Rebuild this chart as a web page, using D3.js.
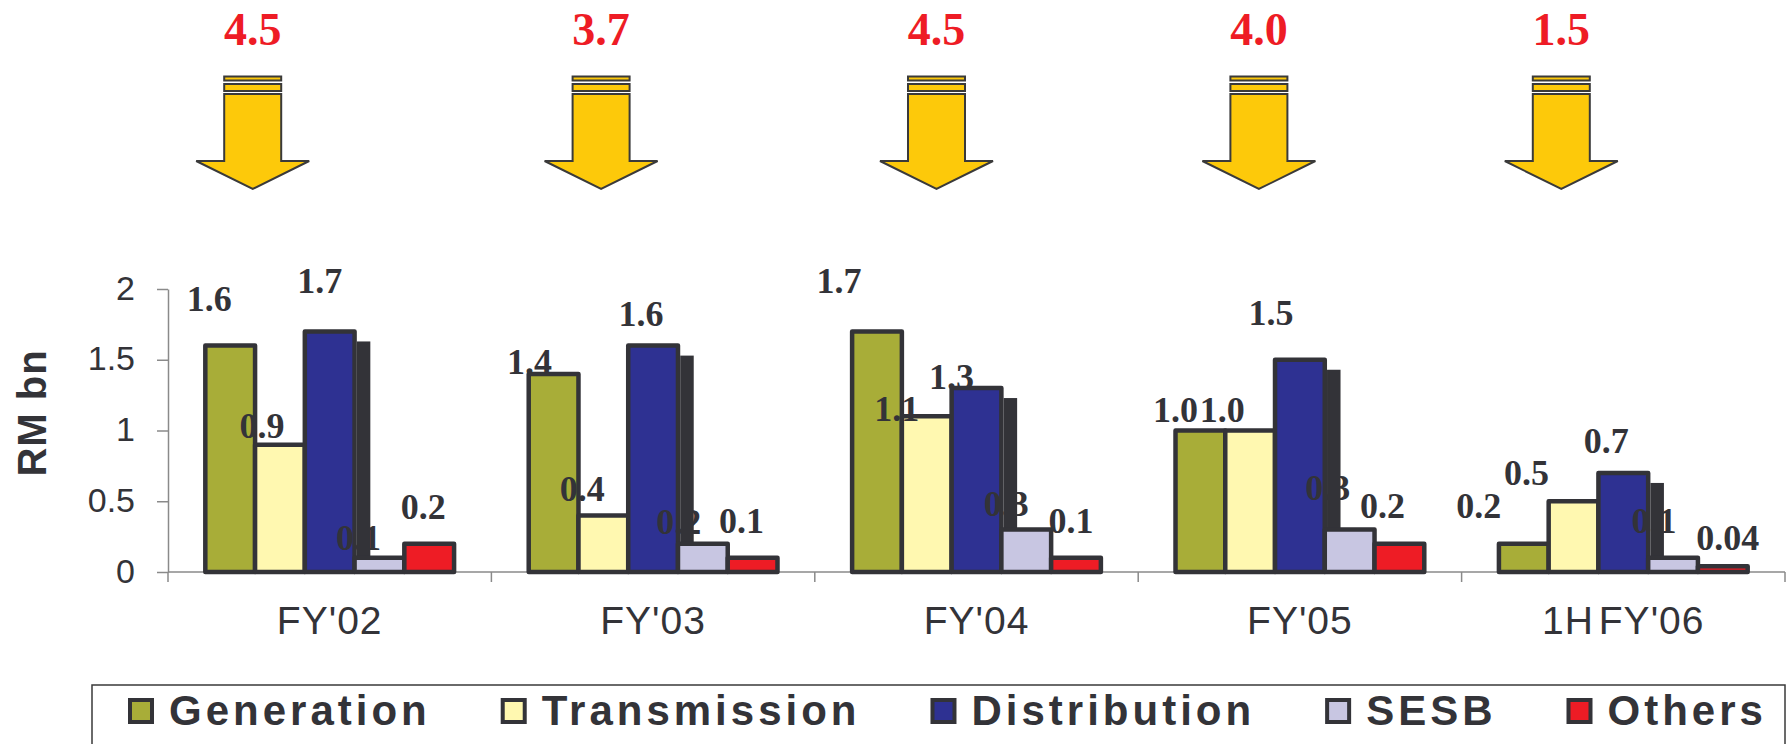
<!DOCTYPE html>
<html>
<head>
<meta charset="utf-8">
<script src="https://cdn.jsdelivr.net/npm/d3@7/dist/d3.min.js"></script>
<style>
  html, body { margin: 0; padding: 0; background: #fff; }
  svg { display: block; }
</style>
</head>
<body>
<svg id="chart" width="1790" height="744"></svg>
<script>
// ---------------- data ----------------
const categories = ["FY'02", "FY'03", "FY'04", "FY'05", "1H FY'06"];
const seriesNames = ["Generation", "Transmission", "Distribution", "SESB", "Others"];
const generation   = [1.6, 1.4, 1.7, 1.0, 0.2];
const transmission = [0.9, 0.4, 1.1, 1.0, 0.5];
const distribution = [1.7, 1.6, 1.3, 1.5, 0.7];
const sesb         = [0.1, 0.2, 0.3, 0.3, 0.1];
const others       = [0.2, 0.1, 0.1, 0.2, 0.04];
const yTicks = [0, 0.5, 1, 1.5, 2];
const yTitle = "RM bn";

// ---------------- layout / style ----------------
const colors = ["#A8AD38", "#FFF8B0", "#2E3192", "#C8C6E2", "#EE1C25"];
const ink = "#333338";
// label nudges [dx, dy] relative to bar centre / bar top (series x category)
const labelNudge = [
  [[-21, -35], [-24, 0], [-38, -38], [-25, -9], [-45, -26]],
  [[-18, -7], [-21, -14], [-30, 5], [-28, -9], [-47, -16]],
  [[-10, -38], [-12, -20], [-25, 1], [-29, -35], [-17, -20]],
  [[-21, -8], [-24, -10], [-20, -14], [-22, -30], [-19, -25]],
  [[-6, -25], [-11, -25], [-5, -25], [-17, -26], [5, -16]]
];
// arrow offsets relative to band centre
const arrowOffset = [-77, -52, -40, -41, -62];

const seriesValues = [generation, transmission, distribution, sesb, others];

const svg = d3.select("#chart");
const plot = { left: 168, right: 1785, top: 289, bottom: 572 };

const x0 = d3.scaleBand().domain(categories).range([plot.left, plot.right]).padding(0);
const x1 = d3.scaleBand().domain(seriesNames).range([0, x0.bandwidth()])
  .paddingInner(0).paddingOuter(0.75);
const y = d3.scaleLinear().domain([0, 2]).range([plot.bottom, plot.top]);

const sansFont = "'Liberation Sans', Arial, Helvetica, sans-serif";
const serifFont = "'Liberation Serif', 'Times New Roman', Times, serif";

// ---------------- y axis ----------------
const yAxis = d3.axisLeft(y).tickValues(yTicks).tickSize(11).tickSizeOuter(0)
  .tickPadding(22).tickFormat(d3.format(""));
const gy = svg.append("g").attr("transform", `translate(${plot.left},0)`).call(yAxis);
gy.select(".domain").attr("stroke", "#8a8a8a").attr("stroke-width", 1.5);
gy.selectAll(".tick line").attr("stroke", "#8a8a8a").attr("stroke-width", 1.5);
gy.selectAll(".tick text")
  .attr("font-family", sansFont).attr("font-size", 34).attr("fill", ink)
  .attr("dy", "0.3em");

// y title
svg.append("text")
  .attr("transform", `translate(46,413) rotate(-90)`)
  .attr("text-anchor", "middle")
  .attr("font-family", sansFont).attr("font-weight", "bold").attr("font-size", 40)
  .attr("letter-spacing", 1)
  .attr("fill", ink)
  .text(yTitle);

// ---------------- x axis ----------------
const gx = svg.append("g");
gx.append("line")
  .attr("x1", plot.left).attr("x2", plot.right)
  .attr("y1", y(0)).attr("y2", y(0))
  .attr("stroke", "#8a8a8a").attr("stroke-width", 1.5);
const boundaries = categories.map(c => x0(c)).concat([x0(categories[categories.length - 1]) + x0.bandwidth()]);
gx.selectAll("line.tk").data(boundaries).join("line").attr("class", "tk")
  .attr("x1", d => d).attr("x2", d => d)
  .attr("y1", y(0)).attr("y2", y(0) + 10)
  .attr("stroke", "#8a8a8a").attr("stroke-width", 1.5);
gx.selectAll("text.cat").data(categories).join("text").attr("class", "cat")
  .attr("x", d => x0(d) + x0.bandwidth() / 2)
  .attr("y", 634)
  .attr("text-anchor", "middle")
  .attr("font-family", sansFont).attr("font-size", 39).attr("letter-spacing", 1)
  .attr("word-spacing", -7)
  .attr("fill", ink)
  .text(d => d);

// ---------------- bars ----------------
const barsG = svg.append("g");
const bw = x1.bandwidth();
const sw = 4.5;
seriesNames.forEach((s, si) => {
  const vals = seriesValues[si];
  barsG.append("g").selectAll("rect").data(categories).join("rect")
    .attr("x", (c) => x0(c) + x1(s))
    .attr("y", (c, i) => y(vals[i]))
    .attr("width", bw)
    .attr("height", (c, i) => y(0) - y(vals[i]))
    .attr("fill", colors[si])
    .attr("stroke", ink).attr("stroke-width", sw).attr("stroke-linejoin", "round");
  if (s === "Distribution") {
    // 3D-like dark side of Distribution bars
    barsG.append("g").selectAll("rect").data(categories).join("rect")
      .attr("x", c => x0(c) + x1(s) + bw + sw / 2)
      .attr("y", (c, i) => y(vals[i]) + 10)
      .attr("width", 13.5)
      .attr("height", (c, i) => y(0) - y(vals[i]) - 10)
      .attr("fill", ink);
  }
});

// ---------------- value labels ----------------
const fmtLabel = v => (v < 0.1 ? d3.format(".2f")(v) : d3.format(".1f")(v));
const labelsG = svg.append("g");
seriesNames.forEach((s, si) => {
  const vals = seriesValues[si];
  labelsG.append("g").selectAll("text").data(categories).join("text")
    .attr("x", (c, i) => x0(c) + x1(s) + bw / 2 + labelNudge[si][i][0])
    .attr("y", (c, i) => y(vals[i]) + labelNudge[si][i][1])
    .attr("text-anchor", "middle")
    .attr("font-family", serifFont).attr("font-weight", "bold").attr("font-size", 36)
    .attr("fill", ink)
    .text((c, i) => fmtLabel(vals[i]));
});

// ---------------- totals & arrows ----------------
const totals = categories.map((c, i) => d3.sum(seriesValues, arr => arr[i]));
const arrowG = svg.append("g");
categories.forEach((c, i) => {
  const cx = x0(c) + x0.bandwidth() / 2 + arrowOffset[i];
  arrowG.append("text")
    .attr("x", cx).attr("y", 45)
    .attr("text-anchor", "middle")
    .attr("font-family", serifFont).attr("font-weight", "bold").attr("font-size", 46)
    .attr("fill", "#EE1C25")
    .text(d3.format(".1f")(totals[i]));
  const hw = 28.5, hh = 56.5;
  const g = arrowG.append("g").attr("fill", "#FDC90A").attr("stroke", "#3a3a3a").attr("stroke-width", 2);
  g.append("rect").attr("x", cx - hw).attr("y", 76.5).attr("width", hw * 2).attr("height", 4);
  g.append("rect").attr("x", cx - hw).attr("y", 84).attr("width", hw * 2).attr("height", 7);
  g.append("path").attr("stroke-linejoin", "miter")
    .attr("d", `M${cx - hw},94 L${cx + hw},94 L${cx + hw},161 L${cx + hh},161 L${cx},189 L${cx - hh},161 L${cx - hw},161 Z`);
});

// ---------------- legend ----------------
const legG = svg.append("g");
legG.append("rect")
  .attr("x", 92).attr("y", 685).attr("width", 1785 - 92).attr("height", 120)
  .attr("fill", "none").attr("stroke", "#3a3a3a").attr("stroke-width", 1.5);
let lx = 128;
seriesNames.forEach((s, si) => {
  legG.append("rect")
    .attr("x", lx + 2).attr("y", 700).attr("width", 22).attr("height", 22)
    .attr("fill", colors[si]).attr("stroke", ink).attr("stroke-width", 4);
  const t = legG.append("text")
    .attr("x", lx + 41).attr("y", 725)
    .attr("font-family", sansFont).attr("font-weight", "bold").attr("font-size", 42)
    .attr("letter-spacing", 4)
    .attr("fill", ink)
    .text(s);
  const len = t.node().getComputedTextLength();
  lx = lx + 41 + len - 4 + 74;
});
</script>
</body>
</html>
